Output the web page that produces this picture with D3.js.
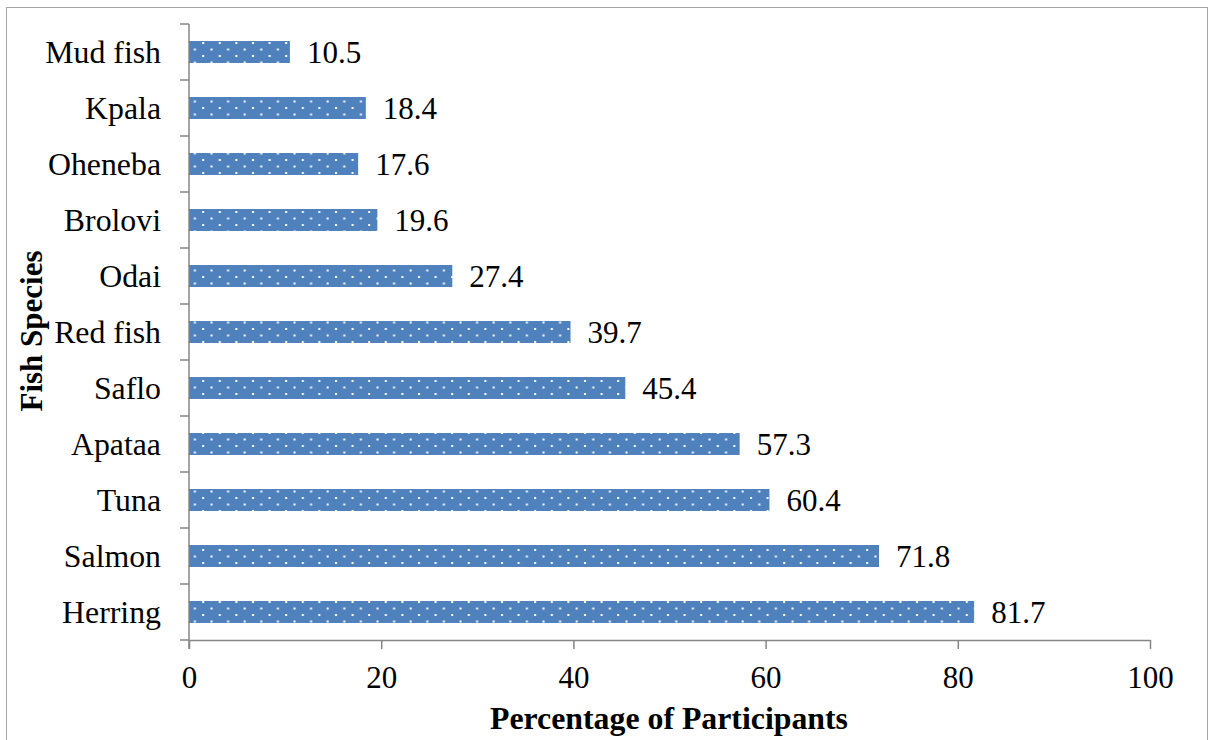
<!DOCTYPE html>
<html><head><meta charset="utf-8">
<script src="https://cdn.jsdelivr.net/npm/d3@7"></script>
<style>body{margin:0;background:#fff}svg{display:block}</style>
</head><body>
<script>
const categories = ["Mud fish","Kpala","Oheneba","Brolovi","Odai","Red fish","Saflo","Apataa","Tuna","Salmon","Herring"];
const values = [10.5,18.4,17.6,19.6,27.4,39.7,45.4,57.3,60.4,71.8,81.7];
const xTicks = [0,20,40,60,80,100];
const xTitle = "Percentage of Participants";
const yTitle = "Fish Species";

const W = 1210, H = 740;
const svg = d3.select("body").append("svg").attr("width", W).attr("height", H);
const font = "Liberation Serif, Times New Roman, serif";
const fs = 31;

const defs = svg.append("defs");
const pat = defs.append("pattern").attr("id","dots").attr("patternUnits","userSpaceOnUse")
  .attr("width",16.6).attr("height",13);
pat.append("rect").attr("width",16.6).attr("height",13).attr("fill","#4F81BD");
pat.append("rect").attr("x",3).attr("y",3).attr("width",2).attr("height",2).attr("fill","#fff");
pat.append("rect").attr("x",11.3).attr("y",9.5).attr("width",2).attr("height",2).attr("fill","#fff");

svg.append("rect").attr("x",6.5).attr("y",7.5).attr("width",1201).attr("height",760)
  .attr("fill","none").attr("stroke","#a6a6a6").attr("stroke-width",1);

const x = d3.scaleLinear().domain([0,100]).range([189,1150]);
const yb = d3.scaleBand().domain(categories).range([24,640]);

// bars
svg.selectAll("rect.bar").data(values).join("rect").attr("class","bar")
  .attr("x", x(0)).attr("y",(d,i)=>yb(categories[i]) + yb.bandwidth()/2 - 11)
  .attr("width", d=>x(d)-x(0)).attr("height",22)
  .attr("fill","url(#dots)");

// value labels
svg.selectAll("text.val").data(values).join("text").attr("class","val")
  .attr("x", d=>x(d)+17).attr("y",(d,i)=>yb(categories[i]) + yb.bandwidth()/2 + 10.5)
  .style("font-family",font).style("font-size",fs+"px").attr("fill","#000")
  .text(d=>d.toFixed(1));

const axisColor = "#868686";
// x axis
const xAxis = svg.append("g").attr("transform","translate(0,640)")
  .call(d3.axisBottom(x).tickValues(xTicks).tickSize(9).tickSizeOuter(0).tickPadding(17));
xAxis.attr("font-family",null).attr("font-size",null);
xAxis.select(".domain").attr("stroke",axisColor).attr("stroke-width",1.5);
xAxis.selectAll(".tick line").attr("stroke",axisColor).attr("stroke-width",1.5);
xAxis.selectAll(".tick text").style("font-family",font).style("font-size",fs+"px").attr("fill","#000");

// y axis
const yg = svg.append("g");
yg.append("line").attr("x1",189).attr("x2",189).attr("y1",24).attr("y2",649)
  .attr("stroke",axisColor).attr("stroke-width",1.5);
const bounds = categories.map(c=>yb(c)).concat([640]);
yg.selectAll("line.t").data(bounds).join("line").attr("class","t")
  .attr("x1",180).attr("x2",189).attr("y1",d=>d).attr("y2",d=>d)
  .attr("stroke",axisColor).attr("stroke-width",1.5);
yg.selectAll("text").data(categories).join("text")
  .attr("x",161).attr("y",c=>yb(c)+yb.bandwidth()/2+10.5)
  .attr("text-anchor","end").style("font-family",font).style("font-size","31.8px").attr("fill","#000")
  .text(c=>c);

svg.append("text").attr("x",669).attr("y",729).attr("text-anchor","middle")
  .style("font-family",font).style("font-size","31.8px").attr("font-weight","bold").text(xTitle);
svg.append("text").attr("transform","translate(42,331) rotate(-90)").attr("text-anchor","middle")
  .style("font-family",font).style("font-size","31px").attr("font-weight","bold").text(yTitle);
</script>
</body></html>
